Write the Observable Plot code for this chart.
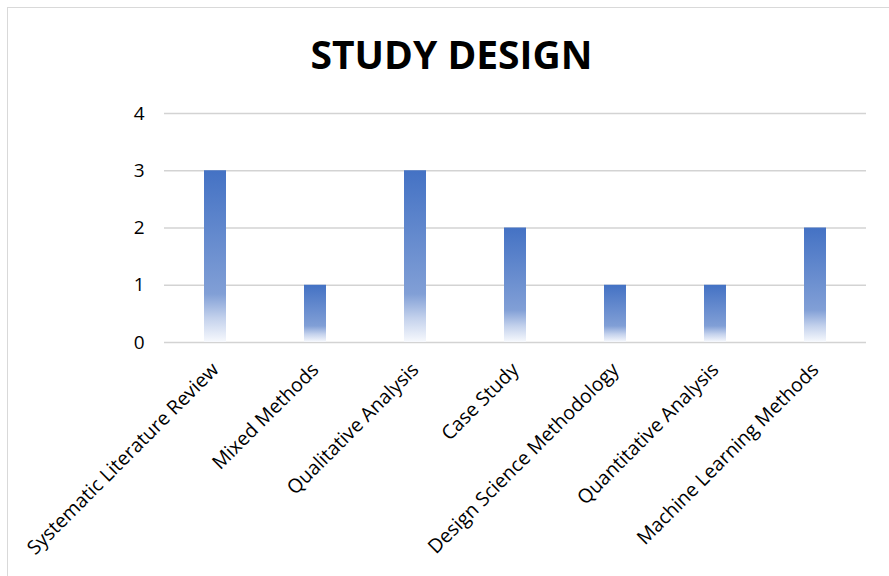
<!DOCTYPE html>
<html>
<head>
<meta charset="utf-8">
<script src="https://cdn.jsdelivr.net/npm/d3@7"></script>
<script src="https://cdn.jsdelivr.net/npm/@observablehq/plot@0.6"></script>
<style>
  html, body { margin: 0; padding: 0; background: #fff; }
  #wrap { position: relative; width: 889px; height: 576px; overflow: hidden; }
  #frame { position: absolute; left: 7px; top: 7px; width: 900px; height: 600px; border: 1.5px solid #d9d9d9; box-sizing: border-box; }
  #title { position: absolute; left: 0; top: 27px; width: 903px; text-align: center; font-family: "Open Sans", sans-serif; font-weight: 700; font-size: 39px; color: #000; }
  #chart { position: absolute; left: 0; top: 0; }
</style>
</head>
<body>
<div id="wrap">
  <div id="frame"></div>
  <div id="title">STUDY DESIGN</div>
  <div id="chart"></div>
</div>
<script>
const categories = [
  "Systematic Literature Review",
  "Mixed Methods",
  "Qualitative Analysis",
  "Case Study",
  "Design Science Methodology",
  "Quantitative Analysis",
  "Machine Learning Methods"
];
const counts = [3, 1, 3, 2, 1, 1, 2];
const yTicks = [0, 1, 2, 3, 4];

const data = categories.map((c, i) => ({category: c, count: counts[i]}));

const defs = () => {
  const d = d3.create("svg:defs");
  const g = d.append("linearGradient").attr("id", "barGrad")
    .attr("x1", 0).attr("y1", 0).attr("x2", 0).attr("y2", 1);
  g.append("stop").attr("offset", "0%").attr("stop-color", "#4472c4");
  g.append("stop").attr("offset", "72%").attr("stop-color", "#819fd6");
  g.append("stop").attr("offset", "86%").attr("stop-color", "#c3d1ec");
  g.append("stop").attr("offset", "100%").attr("stop-color", "#f7f9fd");
  return d.node();
};

const chart = Plot.plot({
  width: 889,
  height: 576,
  marginLeft: 164,
  marginRight: 23,
  marginTop: 113,
  marginBottom: 234,
  style: {fontFamily: "'Open Sans', sans-serif", fontSize: "19px", color: "#000", background: "transparent"},
  x: {domain: categories, paddingInner: 0.78, paddingOuter: 0.39, label: null},
  y: {domain: [0, 4], label: null},
  marks: [
    defs,
    Plot.ruleY(yTicks, {stroke: "#d3d3d3", strokeWidth: 1.6}),
    Plot.barY(data, {x: "category", y: "count", fill: "url(#barGrad)"}),
    Plot.axisY({ticks: yTicks, tickSize: 0, tickPadding: 20, fontSize: 19, label: null, tickFormat: d3.format("d")}),
    Plot.axisX({tickSize: 0, tickPadding: 24, tickRotate: -45, fontSize: 19.5, label: null})
  ]
});
document.getElementById("chart").appendChild(chart);
</script>
</body>
</html>
